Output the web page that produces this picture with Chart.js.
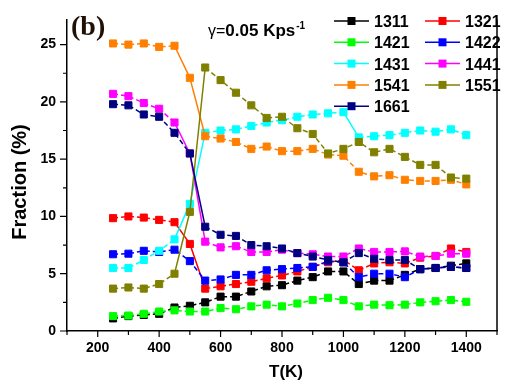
<!DOCTYPE html>
<html>
<head>
<meta charset="utf-8">
<script src="https://cdn.jsdelivr.net/npm/chart.js@4.4.1/dist/chart.umd.min.js"></script>
<style>html,body{margin:0;padding:0;background:#fff}canvas{display:block}</style>
</head>
<body>
<canvas id="chart" width="506" height="385"></canvas>
<script>
// temperature (K) and fraction (%) of each cluster type
const temps = [250, 300, 350, 400, 450, 500, 550, 600, 650, 700, 750, 800,
               850, 900, 950, 1000, 1050, 1100, 1150, 1200, 1250, 1300, 1350, 1400];
const s1311 = [1.1, 1.3, 1.4, 1.5, 2.05, 2.2, 2.5, 3.0, 3.0, 3.45, 3.9, 4.0,
               4.4, 4.7, 5.2, 5.2, 4.1, 4.4, 4.4, 4.9, 5.4, 5.5, 5.7, 5.9];
const s1321 = [9.85, 10.0, 9.9, 9.7, 9.5, 7.6, 3.7, 3.9, 4.1, 4.3, 4.6, 4.85,
               5.2, 5.6, 6.0, 6.2, 5.3, 5.9, 6.0, 5.9, 6.4, 6.55, 7.2, 6.9];
const s1421 = [1.3, 1.35, 1.5, 1.7, 1.8, 1.7, 1.7, 2.0, 1.9, 2.15, 2.3, 2.15,
               2.4, 2.7, 2.9, 2.7, 2.15, 2.3, 2.25, 2.3, 2.5, 2.6, 2.7, 2.55];
const s1422 = [6.7, 6.75, 7.0, 6.9, 7.1, 6.1, 4.4, 4.5, 4.9, 4.9, 5.3, 5.4,
               5.5, 5.6, 6.1, 6.0, 4.7, 5.0, 5.0, 4.7, 5.4, 5.5, 5.6, 5.5];
const s1431 = [5.5, 5.5, 6.2, 7.0, 8.0, 11.1, 17.3, 17.5, 17.6, 17.9, 18.2, 18.4,
               18.7, 18.9, 19.0, 19.1, 16.9, 17.0, 17.1, 17.3, 17.5, 17.4, 17.6, 17.1];
const s1441 = [20.7, 20.5, 19.9, 19.4, 18.2, 15.5, 7.8, 7.3, 7.4, 6.9, 6.9, 7.1,
               6.8, 6.7, 6.5, 6.5, 7.2, 6.9, 6.9, 6.95, 6.5, 6.55, 6.75, 6.75];
const s1541 = [25.1, 25.0, 25.1, 24.8, 24.9, 22.1, 17.0, 16.8, 16.5, 15.9, 16.1, 15.7,
               15.7, 15.9, 15.4, 15.3, 13.9, 13.5, 13.6, 13.2, 13.1, 13.1, 13.2, 12.8];
const s1551 = [3.7, 3.8, 3.7, 4.1, 5.0, 10.4, 23.0, 21.9, 20.8, 19.7, 18.6, 18.7,
               17.7, 17.2, 15.5, 15.9, 16.5, 15.6, 15.9, 15.2, 14.5, 14.5, 13.4, 13.3];
const s1661 = [19.8, 19.7, 18.9, 18.7, 17.3, 15.5, 9.1, 8.4, 8.3, 7.5, 7.4, 7.2,
               6.8, 6.5, 6.2, 6.0, 6.8, 6.3, 6.2, 6.2, 5.4, 5.5, 5.6, 5.5];

const names = ['1311', '1321', '1421', '1422', '1431', '1441', '1541', '1551', '1661'];
const colors = ['#000000', '#ff0000', '#00ff00', '#0000ff', '#00ffff', '#ff00ff', '#ff8000', '#808000', '#000080'];
const series = [s1311, s1321, s1421, s1422, s1431, s1441, s1541, s1551, s1661];

const xTickLabels = [200, 400, 600, 800, 1000, 1200, 1400];
const yTickLabels = [0, 5, 10, 15, 20, 25];

const SANS = '"Liberation Sans", Arial, sans-serif';

const segLen = c => Math.hypot(c.p1.x - c.p0.x, c.p1.y - c.p0.y);

const datasets = series.map((vals, i) => ({
  label: names[i],
  data: temps.map((t, j) => ({ x: t, y: vals[j] })),
  borderColor: colors[i],
  backgroundColor: colors[i],
  pointBackgroundColor: colors[i],
  pointBorderColor: colors[i],
  pointStyle: 'rect',
  pointRadius: 5,
  pointBorderWidth: 1,
  borderWidth: 1.5,
  borderDash: [5, 3],
  segment: { borderDash: c => segLen(c) > 26 ? [] : [5, 3] },
  tension: 0,
  order: series.length - i,
}));

function square(ctx, x, y, s, col) {
  ctx.fillStyle = col;
  ctx.fillRect(x - s / 2, y - s / 2, s, s);
}

const decor = {
  id: 'decor',
  afterDraw(chart) {
    const ctx = chart.ctx;
    const { left, right, top, bottom } = chart.chartArea;
    const xs = chart.scales.x, ys = chart.scales.y;
    ctx.save();

    // right frame line
    ctx.strokeStyle = '#000';
    ctx.lineWidth = 1.5;
    ctx.beginPath();
    ctx.moveTo(right, top);
    ctx.lineTo(right, bottom);
    ctx.stroke();

    // tick marks, major and minor, outward
    ctx.lineWidth = 1.2;
    ctx.beginPath();
    for (let v = 100; v <= 1500; v += 100) {
      const px = xs.getPixelForValue(v);
      const len = v % 200 === 0 ? 6 : 4;
      ctx.moveTo(px, bottom);
      ctx.lineTo(px, bottom + len);
    }
    for (let v = 0; v <= 27; v += 2.5) {
      const py = ys.getPixelForValue(v);
      const len = v % 5 === 0 ? 7 : 4;
      ctx.moveTo(left, py);
      ctx.lineTo(left - len, py);
    }
    ctx.stroke();

    // panel label
    ctx.fillStyle = '#201008';
    ctx.font = 'bold 28px "Liberation Serif", "Times New Roman", serif';
    ctx.textAlign = 'left';
    ctx.textBaseline = 'alphabetic';
    ctx.fillText('(b)', 71, 35);

    // heating rate
    ctx.fillStyle = '#000';
    ctx.font = '16px ' + SANS;
    ctx.fillText('\u03b3=', 208, 36);
    let w = ctx.measureText('\u03b3=').width;
    ctx.font = 'bold 17px ' + SANS;
    ctx.fillText('0.05 Kps', 208 + w, 36);
    w += ctx.measureText('0.05 Kps').width;
    ctx.font = 'bold 10px ' + SANS;
    ctx.fillText('-1', 208 + w + 1, 29);

    // axis titles
    ctx.font = 'bold 17px ' + SANS;
    ctx.textAlign = 'center';
    ctx.textBaseline = 'middle';
    ctx.fillText('T(K)', 286, 372);
    ctx.save();
    ctx.translate(20, 182);
    ctx.rotate(-Math.PI / 2);
    ctx.font = 'bold 20px ' + SANS;
    ctx.fillText('Fraction (%)', 0, 0);
    ctx.restore();

    // legend, two columns
    ctx.font = 'bold 16px ' + SANS;
    ctx.textAlign = 'left';
    ctx.textBaseline = 'alphabetic';
    names.forEach((n, i) => {
      const col = i % 2, row = Math.floor(i / 2);
      const x0 = col === 0 ? 334 : 425;
      const cy = 21 + row * 21.3;
      ctx.strokeStyle = colors[i];
      ctx.lineWidth = 1.5;
      ctx.beginPath();
      ctx.moveTo(x0, cy);
      ctx.lineTo(x0 + 35, cy);
      ctx.stroke();
      square(ctx, x0 + 17.5, cy, 8, colors[i]);
      ctx.fillStyle = '#000';
      ctx.fillText(n, x0 + 40, cy + 6);
    });

    ctx.restore();
  }
};

new Chart(document.getElementById('chart'), {
  type: 'line',
  data: { datasets },
  options: {
    responsive: false,
    animation: false,
    devicePixelRatio: 1,
    layout: { padding: { top: 13, right: 3, left: 0, bottom: 0 } },
    plugins: { legend: { display: false }, tooltip: { enabled: false } },
    events: [],
    scales: {
      x: {
        type: 'linear',
        min: 100,
        max: 1500,
        grid: { display: false, drawTicks: false },
        border: { display: true, color: '#000', width: 1.5 },
        ticks: {
          stepSize: 100,
          autoSkip: false,
          maxRotation: 0,
          padding: 9,
          color: '#000',
          font: { family: SANS, size: 14, weight: 'bold' },
          callback: v => xTickLabels.includes(v) ? String(v) : ''
        },
        afterFit: s => { s.height = 54; }
      },
      y: {
        min: 0,
        max: 27.2,
        grid: { display: false, drawTicks: false },
        border: { display: true, color: '#000', width: 1.5 },
        ticks: {
          stepSize: 2.5,
          autoSkip: false,
          padding: 11,
          color: '#000',
          font: { family: SANS, size: 14, weight: 'bold' },
          callback: v => yTickLabels.includes(v) ? String(v) : ''
        },
        afterFit: s => { s.width = 67; }
      }
    }
  },
  plugins: [decor]
});
</script>
</body>
</html>
